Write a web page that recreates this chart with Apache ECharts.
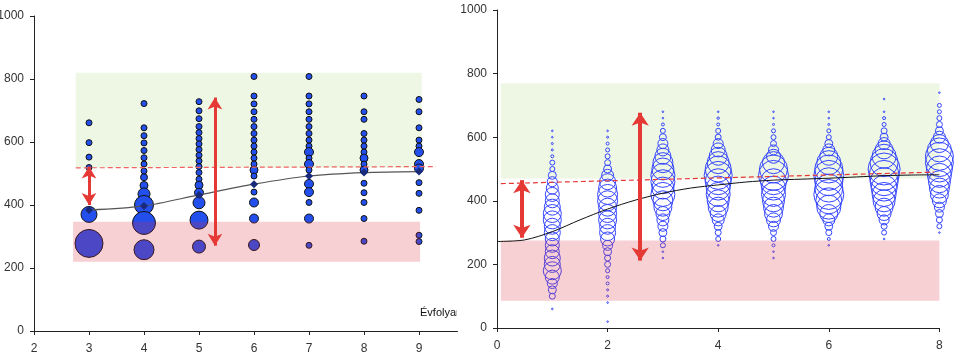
<!DOCTYPE html>
<html><head><meta charset="utf-8">
<script src="https://cdn.jsdelivr.net/npm/echarts@6/dist/echarts.min.js"></script>
<style>html,body{margin:0;padding:0;background:#fff}#c{width:963px;height:362px}</style>
</head><body><div id="c"></div>
<script>
// ---------- LEFT PANEL DATA ----------
const leftXTicks = [2,3,4,5,6,7,8,9];
const leftYTicks = [0,200,400,600,800,1000];
const leftCols = [3,4,5,6,7,8,9];
const L3Scores = [661,598,552,519,370,278];
const L3Sizes  = [6,6,6,6,16,28];
const L4Scores = [722,645,620,597,573,550,530,508,488,462,435,400,343,258];
const L4Sizes  = [6,6,6,6,6,6,6,6,7,8,12,19,23,20];
const L5Scores = [728,699,674,649,630,611,594,576,558,540,522,503,482,463,439,407,352,268];
const L5Sizes  = [6,6,6,6,6,6,6,6,6,6,6,6,6,8,9,12,18,13];
const L6Scores = [808,746,721,696,672,649,627,606,587,568,549,530,511,492,441,408,357,273];
const L6Sizes  = [6,6,6,6,6,6,6,6,6,6,6,6,8,6,6,9,9,11];
const L7Scores = [808,746,721,696,672,649,627,606,587,568,549,530,511,467,441,408,357,272];
const L7Sizes  = [6,6,6,6,6,6,6,6,6,9,6,9,6,9,9,6,9,6];
const L8Scores = [746,696,672,627,606,587,568,549,530,511,469,439,408,357,285];
const L8Sizes  = [6,6,6,6,6,6,6,8,6,8,6,6,6,6,6];
const L9Scores = [735,696,645,606,587,568,530,516,471,437,383,304,284];
const L9Sizes  = [6,6,6,6,6,9,9,9,6,6,6,6,6];
const leftMeans = [384,397,432,466,492,503,506];
const leftTargetX = [2.76,9.31];
const leftTargetY = [518,522];
const leftGreenBand = [2.76,820,9.05,518];
const leftPinkBand  = [2.71,347,9.02,220];
const leftArrow1 = [3,522,3,400];
const leftArrow2 = [5.29,741,5.29,271];

// ---------- RIGHT PANEL DATA ----------
const rightXTicks = [0,2,4,6,8];
const rightYTicks = [0,200,400,600,800,1000];
const R1Scores = [620,600,580,560,540,520,500,480,460,440,420,400,380,360,340,320,300,280,260,240,220,200,180,160,140,120,100,60];
const R1Sizes  = [0.8,0.8,1,1,1.5,2.5,2.5,4,5,6,7,7,8,9,9,8,8,7,7,7,8,8,9,7,5,4,3,0.8];
const R2Scores = [620,600,580,560,540,520,500,480,460,440,420,400,380,360,340,320,300,280,260,240,220,200,180,160,140,120,100,80,20];
const R2Sizes  = [0.8,1,1.5,2,2.5,3,4,6,8,9,10,10,9,9,9,8,8,7,5,4,3,3,2,1.5,1.5,1,1,0.8,0.8];
const R3Scores = [680,660,640,620,600,580,560,540,520,500,480,460,440,420,400,380,360,340,320,300,280,260,240,220];
const R3Sizes  = [0.8,0.8,1.5,2.5,3.5,5,6,8,10,11,12,12,11,12,10,9,7,6,5,4,3,2.5,0.8,0.8];
const R4Scores = [680,660,640,620,600,580,560,540,520,500,480,460,440,420,400,380,360,340,320,300,280,260];
const R4Sizes  = [0.8,1.2,1.5,2.5,3,5,7,9,11,13,14,13,12,12,11,10,8,6,4,3,2.5,0.8];
const R5Scores = [680,660,640,620,600,580,560,540,520,500,480,460,440,420,400,380,360,340,320,300,280,260,240,220];
const R5Sizes  = [0.8,0.8,1,2,2.5,3,5,7,11,14,15,13,12,12,11,10,9,7,5,3,2.5,1.5,0.8,0.8];
const R6Scores = [680,660,640,620,600,580,560,540,520,500,480,460,440,420,400,380,360,340,320,300,280,260];
const R6Sizes  = [0.8,0.8,1,2,2.5,4,6,9,12,14,15,14,14,15,13,12,9,6,4,3,1.5,0.8];
const R7Scores = [720,680,660,640,620,600,580,560,540,520,500,480,460,440,420,400,380,360,340,320,300,280];
const R7Sizes  = [0.8,0.8,1.5,2,3,4,6,9,12,14,16,15,14,13,12,11,9,7,5,3,2.5,0.8];
const R8Scores = [740,700,680,660,640,620,600,580,560,540,520,500,480,460,440,420,400,380,360,340,320,300];
const R8Sizes  = [0.8,2,2,2.5,3,4,6,9,12,14,14,13,12,11,10,9,7,5,4,3,2.5,0.8];
const rightCurveX = [0,0.5,1,1.5,2,2.5,3,3.5,4,4.5,5,5.5,6,6.5,7,7.5,8];
const rightCurveY = [272,277,303,340,374,402,424,440,450,459,465,468,471,475,479,481,482];
const rightTargetX = [0.07,7.9];
const rightTargetY = [454,490];
const rightGreenBand = [0.07,770,8.3,470];
const rightPinkBand  = [0.07,275,8.3,86];
const rightArrow1 = [0.45,465,0.45,284];
const rightArrow2 = [2.59,677,2.59,212];

// ---------- BUILD ----------
const leftScoreCols = [L3Scores,L4Scores,L5Scores,L6Scores,L7Scores,L8Scores,L9Scores];
const leftSizeCols  = [L3Sizes,L4Sizes,L5Sizes,L6Sizes,L7Sizes,L8Sizes,L9Sizes];
const leftBubbles = [];
leftCols.forEach((x,i)=>leftScoreCols[i].forEach((s,j)=>leftBubbles.push([x,s,leftSizeCols[i][j]])));
const rightScoreCols = [R1Scores,R2Scores,R3Scores,R4Scores,R5Scores,R6Scores,R7Scores,R8Scores];
const rightSizeCols  = [R1Sizes,R2Sizes,R3Sizes,R4Sizes,R5Sizes,R6Sizes,R7Sizes,R8Sizes];
const rightBubbles = [];
rightScoreCols.forEach((col,i)=>col.forEach((s,j)=>rightBubbles.push([i+1,s,rightSizeCols[i][j]])));

const band = (b,color,xi,z)=>({type:'scatter',xAxisIndex:xi,yAxisIndex:xi,data:[],z:z,silent:true,
  markArea:{silent:true,z:z,itemStyle:{color:color},data:[[{coord:[b[0],b[1]]},{coord:[b[2],b[3]]}]]}});
const arrows = (a1,a2,xi,size,w)=>({type:'scatter',xAxisIndex:xi,yAxisIndex:xi,data:[],z:10,silent:true,
  markLine:{silent:true,z:10,symbol:['arrow','arrow'],symbolSize:size,label:{show:false},
    lineStyle:{color:'#e53935',width:w,type:'solid'},emphasis:{disabled:true},
    data:[[{coord:[a1[0],a1[1]]},{coord:[a1[2],a1[3]]}],[{coord:[a2[0],a2[1]]},{coord:[a2[2],a2[3]]}]]}});

const labelStyle = {color:'#333',fontSize:12,fontFamily:'Liberation Sans, Arial, sans-serif',margin:10,formatter:v=>String(v)};
const axisBase = (extra)=>Object.assign({
  type:'value',
  axisLine:{show:true,onZero:false,lineStyle:{color:'#222',width:1}},
  axisTick:{show:true,inside:false,length:4,lineStyle:{color:'#222'}},
  splitLine:{show:false}
},extra);

const option = {
  animation:false,
  grid:[
    {left:34,top:16,width:423.5,height:315,containLabel:false,outerBoundsMode:'none'},
    {left:497,top:10,width:442.4,height:318,containLabel:false,outerBoundsMode:'none'}
  ],
  xAxis:[
    axisBase({gridIndex:0,min:2,max:9.7,interval:1,
      axisTick:{show:true,length:4,lineStyle:{color:'#222'},customValues:leftXTicks},
      axisLabel:Object.assign({},labelStyle,{margin:12,customValues:leftXTicks})}),
    axisBase({gridIndex:1,min:0,max:8,interval:2,
      axisTick:{show:true,length:4,lineStyle:{color:'#222'},customValues:rightXTicks},
      axisLabel:Object.assign({},labelStyle,{margin:12,customValues:rightXTicks})})
  ],
  yAxis:[
    axisBase({gridIndex:0,min:0,max:1000,interval:200,
      axisTick:{show:true,length:4,lineStyle:{color:'#222'},customValues:leftYTicks},
      axisLabel:Object.assign({},labelStyle,{customValues:leftYTicks})}),
    axisBase({gridIndex:1,min:0,max:1000,interval:200,
      axisTick:{show:true,length:4,lineStyle:{color:'#222'},customValues:rightYTicks},
      axisLabel:Object.assign({},labelStyle,{customValues:rightYTicks})})
  ],
  graphic:[
    {type:'text',left:420,top:307,z:100,style:{text:'Évfolyam',fontSize:11,fill:'#111',fontFamily:'Liberation Sans, Arial, sans-serif'}},
    {type:'rect',left:457,top:302,z:101,shape:{width:30,height:20},style:{fill:'#fff'}}
  ],
  series:[
    band(leftGreenBand,'#eef6e4',0,1),
    {type:'scatter',xAxisIndex:0,yAxisIndex:0,z:2,data:leftBubbles,
      symbolSize:d=>d[2],itemStyle:{color:'#2350ec',borderColor:'#111',borderWidth:1,opacity:1}},
    band(leftPinkBand,'rgba(220,40,60,0.22)',0,3),
    {type:'line',xAxisIndex:0,yAxisIndex:0,z:4,smooth:0.3,data:leftCols.map((x,i)=>[x,leftMeans[i]]),
      lineStyle:{color:'#555',width:1.2},symbol:'diamond',symbolSize:8,showSymbol:true,
      itemStyle:{color:'#1a2a7a',borderWidth:0}},
    {type:'line',xAxisIndex:0,yAxisIndex:0,z:5,data:leftTargetX.map((x,i)=>[x,leftTargetY[i]]),
      lineStyle:{color:'#f06464',width:1.2,type:[5,3]},symbol:'none'},
    arrows(leftArrow1,leftArrow2,0,[11,12],3),

    band(rightGreenBand,'#eef6e4',1,1),
    {type:'scatter',xAxisIndex:1,yAxisIndex:1,z:2,data:rightBubbles,
      symbolSize:d=>d[2]*2,itemStyle:{color:'rgba(0,0,0,0)',borderColor:'#3344ff',borderWidth:1,opacity:1}},
    band(rightPinkBand,'rgba(220,40,60,0.22)',1,3),
    {type:'line',xAxisIndex:1,yAxisIndex:1,z:4,smooth:0.3,
      data:rightCurveX.map((x,i)=>[x,rightCurveY[i]]),lineStyle:{color:'#111',width:1},symbol:'none'},
    {type:'line',xAxisIndex:1,yAxisIndex:1,z:5,data:rightTargetX.map((x,i)=>[x,rightTargetY[i]]),
      lineStyle:{color:'#e53935',width:1.2,type:[5,3]},symbol:'none'},
    arrows(rightArrow1,rightArrow2,1,[13,13],4)
  ]
};
echarts.init(document.getElementById('c'),null,{renderer:'canvas'}).setOption(option);
</script></body></html>
